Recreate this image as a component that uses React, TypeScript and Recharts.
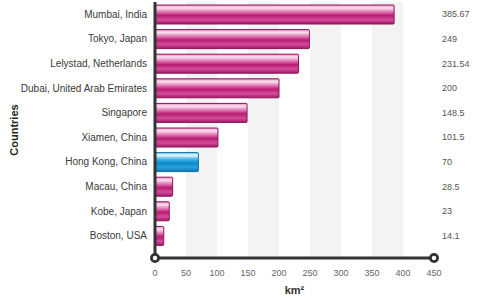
import React from 'react';
import {
  BarChart,
  Bar,
  XAxis,
  YAxis,
  CartesianGrid,
  Cell,
} from 'recharts';

const CITIES = [
  'Mumbai, India',
  'Tokyo, Japan',
  'Lelystad, Netherlands',
  'Dubai, United Arab Emirates',
  'Singapore',
  'Xiamen, China',
  'Hong Kong, China',
  'Macau, China',
  'Kobe, Japan',
  'Boston, USA',
];

const AREAS = [385.67, 249, 231.54, 200, 148.5, 101.5, 70, 28.5, 23, 14.1];

const X_TICKS = [0, 50, 100, 150, 200, 250, 300, 350, 400, 450];

const HIGHLIGHT = 'Hong Kong, China';

const FONT = '"Liberation Sans", Arial, sans-serif';

const chartData = CITIES.map((name, i) => ({ name, area: AREAS[i] }));

// bottom axis tick: label plus the round caps at both ends of the axis line
const XTick = (props: any) => {
  const { x, y, payload, index } = props;
  const isEnd = index === 0 || index === X_TICKS.length - 1;
  return (
    <g>
      {isEnd && (
        <circle cx={x} cy={y} r={3.6} fill="#fff" stroke="#333" strokeWidth={2.8} />
      )}
      <text
        x={x}
        y={y + 18}
        textAnchor="middle"
        fontSize={9}
        fontFamily={FONT}
        fill="#666"
      >
        {payload.value}
      </text>
    </g>
  );
};

// category labels on one line (the default tick wraps long names)
const CityTick = (props: any) => {
  const { x, y, payload } = props;
  return (
    <text
      x={x}
      y={y}
      dy="0.35em"
      textAnchor="end"
      fontSize={10}
      fontFamily={FONT}
      fill="#3a3a3a"
    >
      {payload.value}
    </text>
  );
};

const App: React.FC = () => {
  const valueFor = (name: string) => {
    const idx = CITIES.indexOf(name);
    return idx >= 0 ? String(AREAS[idx]) : '';
  };

  return (
    <div style={{ position: 'absolute', left: 0, top: 0, width: 482, height: 298, background: '#fff' }}>
      <BarChart
        width={482}
        height={298}
        data={chartData}
        layout="vertical"
        margin={{ top: 2, right: 0, bottom: 0, left: 0 }}
        barSize={19}
      >
        <defs>
          <linearGradient id="pinkBar" x1="0" y1="0" x2="0" y2="1">
            <stop offset="0%" stopColor="#e58dc0" />
            <stop offset="15%" stopColor="#fbe2f1" />
            <stop offset="35%" stopColor="#e27ab5" />
            <stop offset="55%" stopColor="#b91c71" />
            <stop offset="78%" stopColor="#d24d97" />
            <stop offset="100%" stopColor="#a3176a" />
          </linearGradient>
          <linearGradient id="blueBar" x1="0" y1="0" x2="0" y2="1">
            <stop offset="0%" stopColor="#7fcff0" />
            <stop offset="15%" stopColor="#e2f6ff" />
            <stop offset="35%" stopColor="#45b6e6" />
            <stop offset="55%" stopColor="#0a8bcb" />
            <stop offset="78%" stopColor="#2aa1dc" />
            <stop offset="100%" stopColor="#0877b3" />
          </linearGradient>
        </defs>
        <CartesianGrid
          horizontal={false}
          vertical={true}
          stroke="none"
          verticalFill={['#ffffff', '#f3f3f3']}
          fillOpacity={1}
        />
        <XAxis
          type="number"
          dataKey="area"
          domain={[0, 450]}
          ticks={X_TICKS}
          interval={0}
          height={40}
          tickSize={0}
          tickMargin={0}
          tickLine={false}
          axisLine={{ stroke: '#333', strokeWidth: 3 }}
          tick={XTick}
          label={{
            value: 'km²',
            position: 'insideBottom',
            offset: 4,
            style: { fontFamily: FONT, fontSize: 11, fontWeight: 'bold', fill: '#333' },
          }}
        />
        <YAxis
          type="category"
          dataKey="name"
          width={155}
          padding={{ top: 0, bottom: 10 }}
          interval={0}
          tickLine={false}
          axisLine={{ stroke: '#333', strokeWidth: 3 }}
          tick={CityTick}
          label={{
            value: 'Countries',
            angle: -90,
            position: 'insideLeft',
            offset: 14,
            style: { fontFamily: FONT, fontSize: 11, fontWeight: 'bold', fill: '#222', textAnchor: 'middle' },
          }}
        />
        <YAxis
          yAxisId="right"
          orientation="right"
          type="category"
          dataKey="name"
          width={48}
          padding={{ top: 0, bottom: 10 }}
          interval={0}
          tickLine={false}
          axisLine={false}
          tickFormatter={valueFor}
          tick={{ fontFamily: FONT, fontSize: 9, fill: '#555' }}
        />
        <Bar dataKey="area" isAnimationActive={false} radius={1}>
          {chartData.map((entry) => (
            <Cell
              key={entry.name}
              fill={entry.name === HIGHLIGHT ? 'url(#blueBar)' : 'url(#pinkBar)'}
              stroke={entry.name === HIGHLIGHT ? '#0a6fa8' : '#8c1458'}
              strokeWidth={1}
            />
          ))}
        </Bar>
      </BarChart>
    </div>
  );
};

export default App;
